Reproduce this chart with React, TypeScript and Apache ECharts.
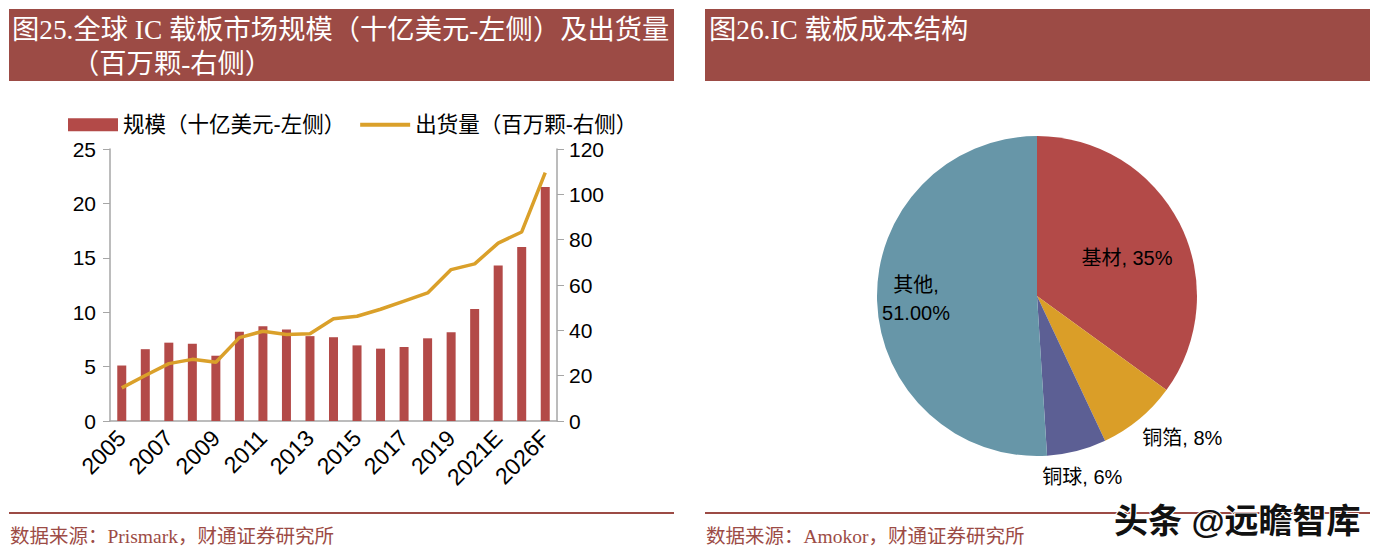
import React, { useEffect, useRef } from 'react';
import * as echarts from 'echarts';

// ---------- data ----------
const years = [
  '2005', '2006', '2007', '2008', '2009', '2010', '2011', '2012', '2013', '2014',
  '2015', '2016', '2017', '2018', '2019', '2020', '2021E', '2022E', '2026F',
];
const marketSize = [
  5.1, 6.6, 7.2, 7.1, 6.0, 8.2, 8.7, 8.4, 7.8, 7.7,
  6.95, 6.65, 6.8, 7.6, 8.15, 10.3, 14.3, 16.0, 21.5,
];
const shipments = [
  14.6, 20.1, 25.3, 27.2, 25.9, 36.8, 39.6, 38.2, 38.5, 45.1,
  46.2, 49.3, 52.9, 56.5, 66.8, 69.3, 78.5, 83.4, 109.6,
];
const leftAxis = { min: 0, max: 25, interval: 5 };
const rightAxis = { min: 0, max: 120, interval: 20 };
const barName = '规模（十亿美元-左侧）';
const lineName = '出货量（百万颗-右侧）';

const pieNames = ['基材', '铜箔', '铜球', '其他'];
const pieValues = [35, 8, 6, 51];

const title1a = '图25.全球 IC 载板市场规模（十亿美元-左侧）及出货量';
const title1b = '（百万颗-右侧）';
const title2 = '图26.IC 载板成本结构';
const source1 = '数据来源：Prismark，财通证券研究所';
const source2 = '数据来源：Amokor，财通证券研究所';
const watermark = '头条 @远瞻智库';

// ---------- styles ----------
const HEADER = '#9C4B45';
const BAR = '#B34A48';
const LINE = '#DAA02A';
const PIE_COLORS = ['#B34A48', '#DA9E28', '#5C5F94', '#6796A8'];
const SERIF = '"Liberation Serif", "Noto Sans CJK SC", serif';
const SANS = '"Liberation Sans", "Noto Sans CJK SC", sans-serif';

export default function App() {
  const ref = useRef<HTMLDivElement>(null);

  useEffect(() => {
    document.body.style.margin = '0';
    const chart = echarts.init(ref.current!, null, { renderer: 'svg' });

    const pieOffsets: Record<string, number[]> = {
      '基材': [16, 0],
      '铜箔': [-8, 11],
      '铜球': [-42, 16],
      '其他': [-38, 0],
    };

    const option: any = {
      animation: false,
      backgroundColor: '#ffffff',
      legend: {
        left: 63,
        top: 109,
        itemWidth: 50,
        itemHeight: 13,
        itemGap: 15,
        textStyle: { fontFamily: SANS, fontSize: 21.5, color: '#000' },
        data: [
          { name: barName, icon: 'rect' },
          { name: lineName, icon: 'path://M0,0 L50,0 L50,4 L0,4 Z' },
        ],
      },
      grid: [{ left: 110, right: 826, top: 149, bottom: 136 }],
      xAxis: [
        {
          type: 'category',
          data: years,
          gridIndex: 0,
          boundaryGap: true,
          axisLine: { lineStyle: { color: '#A6A6A6', width: 1.5 } },
          axisTick: { show: false },
          axisLabel: {
            interval: 1,
            rotate: 45,
            fontFamily: SANS,
            fontSize: 23,
            color: '#000',
            margin: 13,
          },
        },
      ],
      yAxis: [
        {
          type: 'value',
          gridIndex: 0,
          ...leftAxis,
          position: 'left',
          splitLine: { show: false },
          axisLine: { show: true, lineStyle: { color: '#A6A6A6', width: 1.5 } },
          axisTick: { show: true, length: 7, lineStyle: { color: '#A6A6A6' } },
          axisLabel: { fontFamily: SANS, fontSize: 21, color: '#000', margin: 14 },
        },
        {
          type: 'value',
          gridIndex: 0,
          ...rightAxis,
          position: 'right',
          splitLine: { show: false },
          axisLine: { show: true, lineStyle: { color: '#A6A6A6', width: 1.5 } },
          axisTick: { show: true, length: 7, lineStyle: { color: '#A6A6A6' } },
          axisLabel: { fontFamily: SANS, fontSize: 21, color: '#000', margin: 12 },
        },
      ],
      series: [
        {
          type: 'bar',
          name: barName,
          xAxisIndex: 0,
          yAxisIndex: 0,
          data: marketSize,
          barWidth: 9,
          itemStyle: { color: BAR },
        },
        {
          type: 'line',
          name: lineName,
          xAxisIndex: 0,
          yAxisIndex: 1,
          data: shipments,
          symbol: 'none',
          lineStyle: { color: LINE, width: 3.5 },
          itemStyle: { color: LINE },
        },
        {
          type: 'pie',
          center: [1037, 296],
          radius: 160,
          startAngle: 90,
          clockwise: true,
          label: {
            fontFamily: SANS,
            fontSize: 20,
            color: '#000',
            lineHeight: 28,
            formatter: (p: any) =>
              p.name === '其他'
                ? `${p.name},\n${Number(p.value).toFixed(2)}%`
                : `${p.name}, ${p.value}%`,
          },
          labelLine: { show: false, length: 10, length2: 0 },
          data: pieNames.map((n, i) => ({
            name: n,
            value: pieValues[i],
            itemStyle: { color: PIE_COLORS[i], borderWidth: 0 },
            label: {
              position: n === '基材' || n === '其他' ? 'inside' : 'outside',
              offset: pieOffsets[n],
            },
          })),
        },
      ],
      graphic: [
        { type: 'rect', shape: { x: 9, y: 9, width: 665, height: 72 }, style: { fill: HEADER } },
        { type: 'rect', shape: { x: 705, y: 9, width: 665, height: 72 }, style: { fill: HEADER } },
        {
          type: 'text', x: 12, y: 30,
          style: { text: title1a, fill: '#fff', fontFamily: SERIF, fontSize: 27.3, verticalAlign: 'middle' },
        },
        {
          type: 'text', x: 72, y: 64,
          style: { text: title1b, fill: '#fff', fontFamily: SERIF, fontSize: 27.3, verticalAlign: 'middle' },
        },
        {
          type: 'text', x: 709, y: 30,
          style: { text: title2, fill: '#fff', fontFamily: SERIF, fontSize: 27.3, verticalAlign: 'middle' },
        },
        { type: 'rect', shape: { x: 9, y: 512, width: 665, height: 2 }, style: { fill: HEADER } },
        { type: 'rect', shape: { x: 705, y: 512, width: 665, height: 2 }, style: { fill: HEADER } },
        {
          type: 'text', x: 10, y: 536,
          style: { text: source1, fill: '#9C4B45', fontFamily: SERIF, fontSize: 19.5, verticalAlign: 'middle' },
        },
        {
          type: 'text', x: 706, y: 536,
          style: { text: source2, fill: '#9C4B45', fontFamily: SERIF, fontSize: 19.5, verticalAlign: 'middle' },
        },
        {
          type: 'text', x: 1114, y: 521,
          style: {
            text: watermark, fill: '#111', fontFamily: SANS, fontSize: 34, fontWeight: 'bold',
            verticalAlign: 'middle', stroke: '#fff', lineWidth: 2,
          },
        },
      ],
    };

    chart.setOption(option);
    return () => chart.dispose();
  }, []);

  return (
    <div
      ref={ref}
      style={{ position: 'absolute', left: 0, top: 0, width: 1383, height: 557 }}
    />
  );
}
